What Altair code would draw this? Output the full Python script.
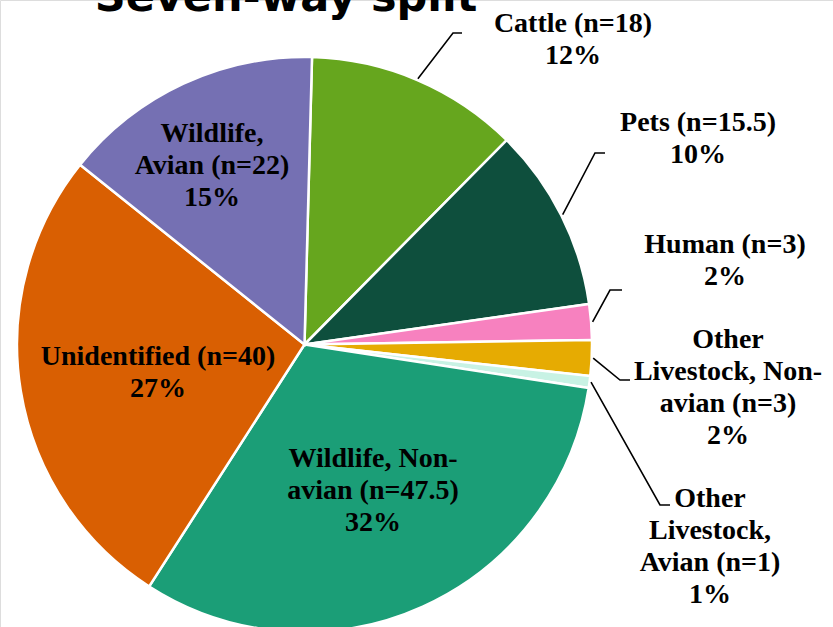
import math
import altair as alt
import pandas as pd

# ---- data ----
categories = ["Cattle", "Pets", "Human", "Other Livestock, Non-avian",
              "Other Livestock, Avian", "Wildlife, Non-avian", "Unidentified",
              "Wildlife, Avian"]
counts = [18, 15.5, 3, 3, 1, 47.5, 40, 22]
label_texts = [
    "Cattle (n=18)\n12%",
    "Pets (n=15.5)\n10%",
    "Human (n=3)\n2%",
    "Other\nLivestock, Non-\navian (n=3)\n2%",
    "Other\nLivestock,\nAvian (n=1)\n1%",
    "Wildlife, Non-\navian (n=47.5)\n32%",
    "Unidentified (n=40)\n27%",
    "Wildlife,\nAvian (n=22)\n15%",
]
colors = ["#66a61e", "#0e4f3d", "#f781bf", "#e6ab02", "#c8f2e4",
          "#1b9e77", "#d95f02", "#7570b3"]
title_text = "Seven-way split"

# ---- layout ----
W, H = 833, 627
CX, CY, R = 304.5, 344.5, 287.5
START = math.radians(1.5)
label_x = [573, 698, 725, 728, 710, 373, 158, 212]
label_y = [32, 131, 253, 348, 507, 467, 365, 142]
leader_elbow = {0: (453, 33), 1: (595, 153), 2: (610, 290), 3: (620, 380), 4: (660, 505)}
leader_end = {0: (462, 33), 1: (605, 153), 2: (622, 290), 3: (630, 380), 4: (670, 505)}

total = sum(counts)
pie_df = pd.DataFrame({"cat": categories, "n": counts, "idx": list(range(len(categories)))})
lab_df = pd.DataFrame({"cat": categories, "txt": label_texts, "x": label_x, "y": label_y})

rows = []
cum = 0.0
for i, v in enumerate(counts):
    mid = START + 2 * math.pi * (cum + v / 2) / total
    cum += v
    if i in leader_elbow:
        sx = CX + (R + 1.5) * math.sin(mid)
        sy = CY - (R + 1.5) * math.cos(mid)
        for k, (px, py) in enumerate([(sx, sy), leader_elbow[i], leader_end[i]]):
            rows.append({"cat": categories[i], "k": k, "x": px, "y": py})
lead_df = pd.DataFrame(rows)

xs = alt.Scale(domain=[0, W], range=[0, W])
ys = alt.Scale(domain=[H, 0])

pie = alt.Chart(pie_df).mark_arc(outerRadius=R, stroke="white", strokeWidth=2.5).encode(
    theta=alt.Theta("n:Q", stack=True,
                    scale=alt.Scale(range=[START, START + 2 * math.pi])),
    order=alt.Order("idx:Q"),
    color=alt.Color("cat:N", scale=alt.Scale(domain=categories, range=colors), legend=None),
    x=alt.value(CX),
    y=alt.value(CY),
)

leaders = alt.Chart(lead_df).mark_line(color="black", strokeWidth=1.6).encode(
    x=alt.X("x:Q", scale=xs, axis=None),
    y=alt.Y("y:Q", scale=ys, axis=None),
    detail="cat:N",
    order="k:Q",
)

labels = alt.Chart(lab_df).mark_text(
    font="Liberation Serif", fontWeight="bold", fontSize=28, color="black",
    align="center", baseline="alphabetic", lineBreak="\n", lineHeight=32,
).encode(
    x=alt.X("x:Q", scale=xs, axis=None),
    y=alt.Y("y:Q", scale=ys, axis=None),
    text="txt:N",
)

title = alt.Chart(pd.DataFrame({"t": [title_text], "x": [286], "y": [11]})).mark_text(
    font="DejaVu Sans", fontWeight="bold", fontSize=43, color="black",
    align="center", baseline="alphabetic",
).encode(
    x=alt.X("x:Q", scale=xs, axis=None),
    y=alt.Y("y:Q", scale=ys, axis=None),
    text="t:N",
)

chart = alt.layer(pie, leaders, labels, title).properties(
    width=W, height=H, padding=0, autosize=alt.AutoSizeParams(type="none"),
).configure_view(stroke=None).configure(background="white")

chart.save("out.html", embed_options={"renderer": "svg", "actions": False})
